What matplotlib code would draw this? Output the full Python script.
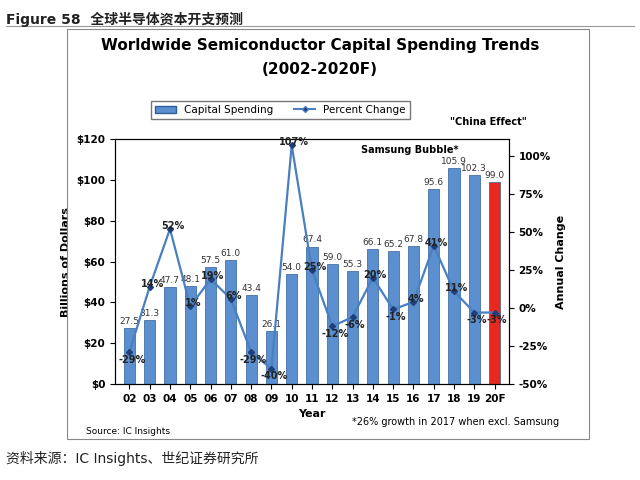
import matplotlib
matplotlib.use("Agg")
import matplotlib.pyplot as plt

years = ["02","03","04","05","06","07","08","09","10","11","12","13","14","15","16","17","18","19","20F"]
spending = [27.5,31.3,47.7,48.1,57.5,61.0,43.4,26.1,54.0,67.4,59.0,55.3,66.1,65.2,67.8,95.6,105.9,102.3,99.0]
pct = [-29,14,52,1,19,6,-29,-40,107,25,-12,-6,20,-1,4,41,11,-3,-3]
pct_labels = ["-29%","14%","52%","1%","19%","6%","-29%","-40%","107%","25%","-12%","-6%","20%","-1%","4%","41%","11%","-3%","-3%"]

plt.rcParams["font.family"] = ["DejaVu Sans", "Noto Sans CJK SC"]
fig = plt.figure(figsize=(6.4, 4.8), dpi=100)
fig.text(0.01, 0.975, "Figure 58  全球半导体资本开支预测", fontsize=10, fontweight="bold", va="top", color="#222222")
fig.add_artist(plt.Line2D([0.01, 0.99], [0.945, 0.945], color="#999999", lw=0.8))
fig.text(0.01, 0.03, "资料来源：IC Insights、世纪证券研究所", fontsize=10, va="bottom", color="#222222")
fig.add_artist(plt.Rectangle((0.105, 0.085), 0.815, 0.855, fill=False, ec="#888888", lw=0.8, transform=fig.transFigure))
fig.text(0.5, 0.895, "Worldwide Semiconductor Capital Spending Trends", ha="center", fontsize=11, fontweight="bold")
fig.text(0.5, 0.845, "(2002-2020F)", ha="center", fontsize=11, fontweight="bold")

ax = fig.add_axes([0.18, 0.2, 0.615, 0.51])
x = list(range(len(years)))
colors = ["#5b8fcf"] * (len(years) - 1) + ["#e8281e"]
ax.bar(x, spending, width=0.55, color=colors, edgecolor="#2f5f99", linewidth=0.5)
for xi, v in zip(x, spending):
    ax.text(xi, v + 1, f"{v:.1f}", ha="center", va="bottom", fontsize=6.5, color="#333333")
ax.set_ylim(0, 120)
ax.set_yticks(range(0, 121, 20))
ax.set_yticklabels([f"${v}" for v in range(0, 121, 20)], fontsize=7.5, fontweight="bold")
ax.set_xticks(x)
ax.set_xticklabels(years, fontsize=7.5, fontweight="bold")
ax.set_xlim(-0.7, len(years) - 0.3)
ax.set_ylabel("Billions of Dollars", fontsize=8, fontweight="bold")
ax.set_xlabel("Year", fontsize=8, fontweight="bold")

ax2 = ax.twinx()
ax2.plot(x, pct, color="#4a7fc0", lw=1.6, marker="D", ms=3, mfc="#1f3f7a", mec="#1f3f7a")
for xi, p, lab in zip(x, pct, pct_labels):
    dy = -5 if p < 0 else 2
    ax2.text(xi + 0.12, p + dy, lab, ha="center", va="center", fontsize=7, fontweight="bold", color="#222222")
ax2.set_ylim(-50, 111)
ax2.set_yticks(range(-50, 101, 25))
ax2.set_yticklabels([f"{v}%" for v in range(-50, 101, 25)], fontsize=7.5, fontweight="bold")
ax2.set_ylabel("Annual Change", fontsize=8, fontweight="bold")

from matplotlib.patches import Patch
from matplotlib.lines import Line2D
ax.legend([Patch(fc="#5b8fcf", ec="#2f5f99"), Line2D([], [], color="#4a7fc0", marker="D", ms=3, mfc="#1f3f7a")],
          ["Capital Spending", "Percent Change"], loc="lower center", bbox_to_anchor=(0.42, 1.06),
          ncol=2, fontsize=7.5, frameon=True, edgecolor="#555555", fancybox=False)
ax.text(13.8, 113, "Samsung Bubble*", fontsize=7, fontweight="bold", ha="center")
ax.text(17.7, 127, "\"China Effect\"", fontsize=7, fontweight="bold", ha="center")
fig.text(0.55, 0.115, "*26% growth in 2017 when excl. Samsung", fontsize=7, ha="left")
fig.text(0.135, 0.095, "Source: IC Insights", fontsize=6.5, ha="left")
fig.savefig("out.png", dpi=100)
